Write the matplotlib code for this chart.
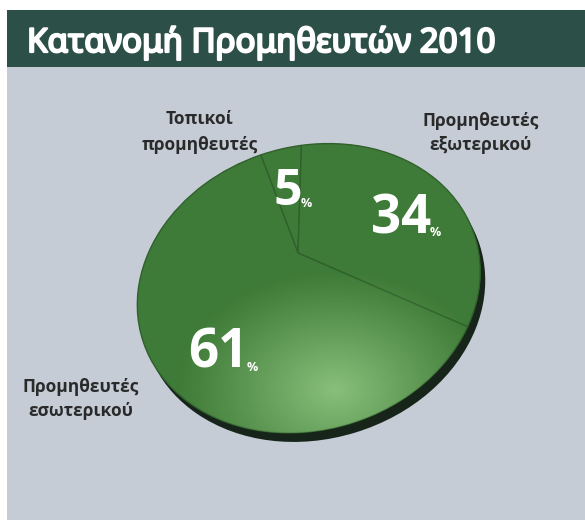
import numpy as np
import matplotlib
matplotlib.use('Agg')
import matplotlib.pyplot as plt
import matplotlib.transforms as mtransforms
import matplotlib.patheffects as pe
from matplotlib.patches import Rectangle, Circle

# data
titlos = 'Κατανομή Προμηθευτών 2010'
katigories = ['Τοπικοί\nπρομηθευτές', 'Προμηθευτές\nεξωτερικού', 'Προμηθευτές\nεσωτερικού']
pososta = [5, 34, 61]

prasino = '#3f7b38'
skouro = '#2c4f48'
fonto = '#c5ccd6'


class Prooptiki(mtransforms.Transform):
    # apli prooptiki gia to "3D" tou diskou
    input_dims = 2
    output_dims = 2

    def __init__(self, k):
        super().__init__()
        self.k = k

    def transform_non_affine(self, xy):
        xy = np.asarray(xy, dtype=float)
        w = 1 + self.k * xy[:, 1]
        return np.column_stack([xy[:, 0] / w, xy[:, 1] / w])


fig = plt.figure(figsize=(5.85, 5.25), dpi=100)
fig.patch.set_facecolor('white')
ax = fig.add_axes([0, 0, 1, 1])

wedges, _ = ax.pie(pososta, startangle=93, counterclock=False,
                   colors=[prasino] * 3,
                   wedgeprops=dict(edgecolor='#30602b', linewidth=1.0))

# fonto kai titlos
ax.add_patch(Rectangle((7, 67), 578, 453, facecolor=fonto, edgecolor='none', zorder=0))
ax.add_patch(Rectangle((7, 10), 578, 57, facecolor=skouro, edgecolor='none', zorder=0))
tt = ax.text(27, 52, titlos, color='white', fontsize=30, fontweight='bold',
             fontfamily='Noto Sans', fontstretch='extra-condensed', va='baseline', ha='left',
             path_effects=[pe.withStroke(linewidth=1.6, foreground='white')])

# metasximatismos pitas
T = (Prooptiki(0.26) + mtransforms.Affine2D().scale(168, 132).rotate_deg(17)
     .scale(1, -1).translate(298, 253) + ax.transData)
for w in wedges:
    w.set_transform(T)
    w.set_zorder(3)

plagia = Circle((0, 0), 1, facecolor='#17241a', edgecolor='none', zorder=2,
                transform=T + mtransforms.Affine2D().translate(5, -9))
ax.add_patch(plagia)

# fotismos kato deksia
kyklos = Circle((0, 0), 1, facecolor='none', edgecolor='none', transform=T, zorder=4)
ax.add_patch(kyklos)
gx, gy = np.meshgrid(np.linspace(120, 490, 200), np.linspace(130, 450, 200))
d = np.sqrt(((gx - 335) / 160) ** 2 + ((gy - 390) / 120) ** 2)
alpha = np.clip(1 - d, 0, 1) ** 1.1 * 0.85
img = np.zeros(gx.shape + (4,))
img[..., 0] = 150 / 255
img[..., 1] = 205 / 255
img[..., 2] = 135 / 255
img[..., 3] = alpha
im = ax.imshow(img, extent=(120, 490, 450, 130), zorder=4, interpolation='bilinear')
im.set_clip_path(kyklos)

ax.set_xlim(0, 585)
ax.set_ylim(525, 0)
ax.set_aspect('auto')
ax.axis('off')

# etiketes kategorion
lab = dict(fontsize=12.5, fontweight='bold', color='#2a2a2a', fontfamily='Open Sans',
           ha='center', va='center', linespacing=1.5)
ax.text(200, 132, katigories[0], **lab)
ax.text(481, 133, katigories[1], **lab)
ax.text(81, 399, katigories[2], **lab)

# arithmoi
num = dict(color='white', fontweight='bold', fontfamily='Open Sans', ha='left',
           va='baseline', zorder=6)
thesis = [(273, 205, 36), (371, 233, 38), (188, 368, 38)]
for p, (x, y, fs) in zip(pososta, thesis):
    t = ax.text(x, y, str(p), fontsize=fs, **num)
    ax.annotate('%', xy=(1, 0), xycoords=t, xytext=(-1, 7), textcoords='offset points',
                fontsize=9, **num)

# o titlos na xoraei sto platos tou protypou (~468 px), me orio sto ypsos
fig.canvas.draw()
platos = tt.get_window_extent().width
tt.set_fontsize(min(33, 30 * 468 / platos))

fig.savefig('out.png', dpi=100, facecolor='white')
